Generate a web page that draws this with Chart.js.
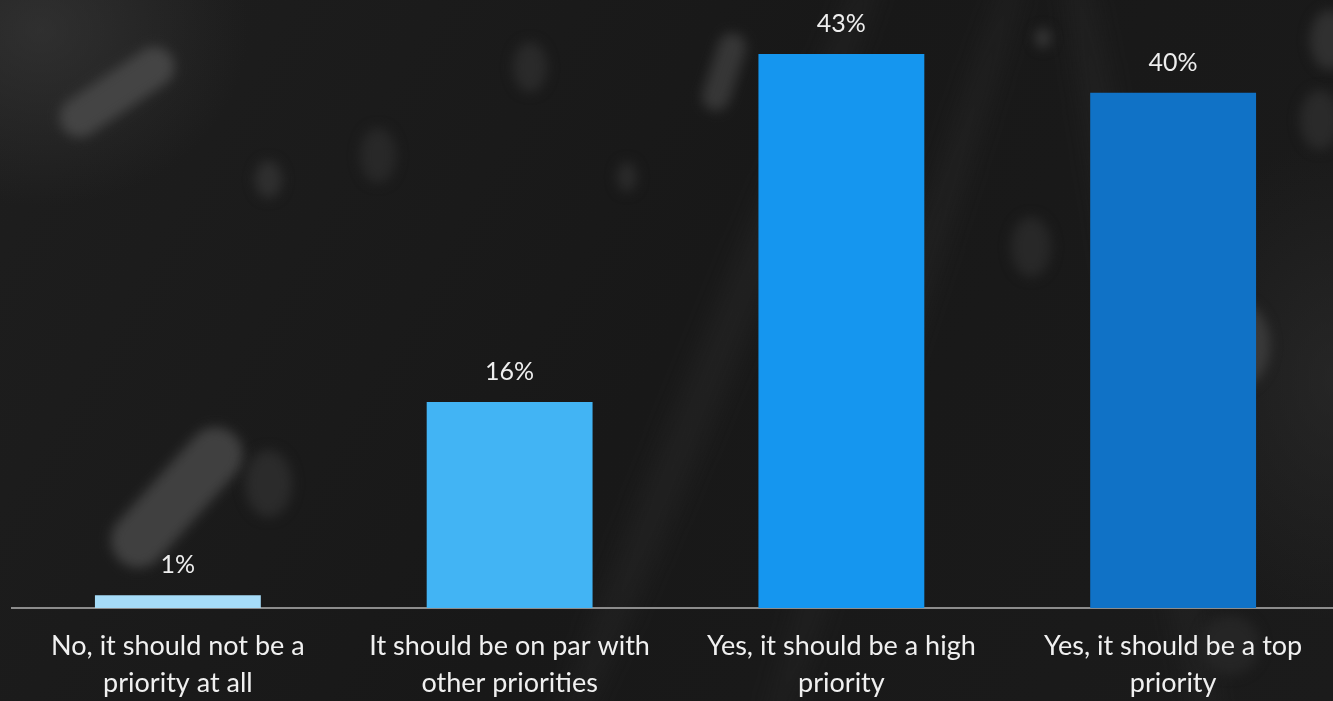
<!DOCTYPE html>
<html lang="en">
<head>
  <meta charset="UTF-8" />
  <title>Priority survey</title>
  <style>
    * { margin: 0; padding: 0; box-sizing: border-box; }
    html, body {
      width: 1333px; height: 701px; overflow: hidden;
      background: #1a1a1a;
    }
    .bg {
      position: absolute; inset: 0; overflow: hidden;
      background:
        radial-gradient(ellipse 260px 220px at 40px 30px, rgba(62,62,62,0.55), transparent 80%),
        radial-gradient(ellipse 200px 300px at 1333px 380px, rgba(45,45,45,0.6), transparent 80%),
        linear-gradient(120deg, #1e1e1e 0%, #181818 50%, #1b1b1b 100%);
    }
    .blob {
      position: absolute; border-radius: 50%;
      filter: blur(6px);
    }
    .streak {
      position: absolute; border-radius: 50%;
      filter: blur(12px);
      background: rgba(50,50,50,0.3);
    }
    .wrap { position: absolute; left: 0; top: 0; width: 1339px; height: 722px; }
  </style>
</head>
<body>
  <div class="bg">
    <div class="streak" style="left:700px;top:-100px;width:40px;height:900px;transform:rotate(22deg)"></div>
    <div class="streak" style="left:880px;top:-100px;width:30px;height:900px;transform:rotate(18deg)"></div>
    <div class="streak" style="left:1120px;top:-120px;width:36px;height:900px;transform:rotate(-10deg)"></div>
    <div class="blob" style="left:52px;top:72px;width:130px;height:40px;border-radius:20px;background:#444;transform:rotate(-34deg)"></div>
    <div class="blob" style="left:92px;top:470px;width:170px;height:55px;border-radius:28px;background:#404040;transform:rotate(-48deg)"></div>
    <div class="blob" style="left:245px;top:450px;width:47px;height:67px;background:#2b2b2b"></div>
    <div class="blob" style="left:255px;top:161px;width:27px;height:37px;background:#2f2f2f"></div>
    <div class="blob" style="left:360px;top:128px;width:36px;height:55px;background:#282828"></div>
    <div class="blob" style="left:513px;top:42px;width:34px;height:50px;background:#2a2a2a"></div>
    <div class="blob" style="left:617px;top:162px;width:20px;height:30px;background:#2a2a2a"></div>
    <div class="blob" style="left:710px;top:32px;width:28px;height:80px;border-radius:14px;background:#363636;transform:rotate(18deg)"></div>
    <div class="blob" style="left:1035px;top:28px;width:16px;height:20px;background:#363636"></div>
    <div class="blob" style="left:1011px;top:217px;width:40px;height:60px;background:#282828"></div>
    <div class="blob" style="left:1200px;top:300px;width:70px;height:90px;background:#3a3a3a"></div>
    <div class="blob" style="left:1310px;top:10px;width:40px;height:60px;background:#303030"></div>
    <div class="blob" style="left:1300px;top:90px;width:40px;height:60px;background:#2a2a2a"></div>
    <div class="blob" style="left:1200px;top:615px;width:60px;height:60px;background:#252525"></div>
  </div>
  <div class="wrap"><canvas id="chart"></canvas></div>
  <script src="https://cdn.jsdelivr.net/npm/chart.js"></script>
  <script>
    const categories = [
      ['No, it should not be a', 'priority at all'],
      ['It should be on par with', 'other priorities'],
      ['Yes, it should be a high', 'priority'],
      ['Yes, it should be a top', 'priority']
    ];
    const values = [1, 16, 43, 40];
    const barColors = ['#a6dcf8', '#42b4f4', '#1596ef', '#1072c6'];

    // draws the "43%" style labels above each bar
    const valueLabels = {
      id: 'valueLabels',
      afterDatasetsDraw(chart) {
        const ctx = chart.ctx;
        const meta = chart.getDatasetMeta(0);
        ctx.save();
        ctx.fillStyle = '#eeeeee';
        ctx.font = '25px Lato, "Open Sans", sans-serif';
        ctx.textAlign = 'center';
        ctx.textBaseline = 'middle';
        meta.data.forEach((bar, i) => {
          ctx.fillText(values[i] + '%', bar.x, bar.y - 30);
        });
        ctx.restore();
      }
    };

    new Chart(document.getElementById('chart'), {
      type: 'bar',
      data: {
        labels: categories,
        datasets: [{
          data: values,
          backgroundColor: barColors,
          borderWidth: 0,
          barPercentage: 0.5,
          categoryPercentage: 1
        }]
      },
      options: {
        responsive: true,
        maintainAspectRatio: false,
        animation: false,
        layout: { padding: { left: 12, right: 0, top: 0, bottom: 0 } },
        plugins: { legend: { display: false }, tooltip: { enabled: false } },
        scales: {
          y: { display: false, min: 0, max: 47.2 },
          x: {
            grid: { display: false, drawTicks: false },
            border: { display: true, color: '#8c8c8c', width: 2 },
            ticks: {
              color: '#f0f0f0',
              padding: 20,
              maxRotation: 0,
              font: { family: 'Lato, "Open Sans", sans-serif', size: 27, lineHeight: 1.37 }
            }
          }
        }
      },
      plugins: [valueLabels]
    });
  </script>
</body>
</html>
